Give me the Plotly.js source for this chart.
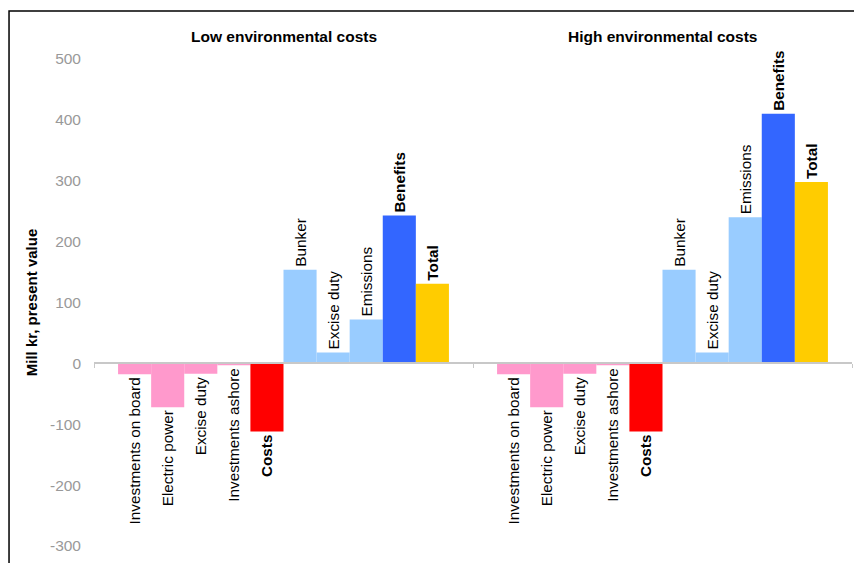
<!DOCTYPE html>
<html>
<head>
<meta charset="utf-8">
<script src="https://cdn.plot.ly/plotly-3.0.1.min.js"></script>
<style>
  html, body { margin: 0; padding: 0; background: #ffffff; }
  #chart { width: 854px; height: 563px; }
</style>
</head>
<body>
<div id="chart"></div>
<script>
// Scenario groups along the x axis
const scenarios = ['Low environmental costs', 'High environmental costs'];

// Cost and benefit items, in drawing order
const items = ['Investments on board', 'Electric power', 'Excise duty', 'Investments ashore', 'Costs',
               'Bunker', 'Excise duty', 'Emissions', 'Benefits', 'Total'];

// Present values, million kr
const lowEnvValues  = [-18, -72, -17, -3, -112, 154, 18, 72, 243, 131];
const highEnvValues = [-18, -72, -17, -3, -112, 154, 18, 240, 410, 298];

// Summary items get bold labels
const summaryItems = [false, false, false, false, true, false, false, false, true, true];

const itemColors = ['#FF99CC', '#FF99CC', '#FF99CC', '#FF99CC', '#FF0000',
                    '#99CCFF', '#99CCFF', '#99CCFF', '#3366FF', '#FFCC00'];

const yTicks = [-300, -200, -100, 0, 100, 200, 300, 400, 500];

const FONT = 'Arial, "Liberation Sans", sans-serif';

const traces = items.map((name, i) => {
  const label = summaryItems[i] ? '<b>' + name + '</b>' : name;
  return {
    type: 'bar',
    name: name,
    x: scenarios,
    y: [lowEnvValues[i], highEnvValues[i]],
    text: [label, label],
    texttemplate: '%{text}',
    textposition: 'outside',
    textangle: -90,
    constraintext: 'none',
    cliponaxis: false,
    textfont: { family: FONT, size: 15.3, color: '#000000' },
    marker: { color: itemColors[i], line: { width: 0 } },
    hoverinfo: 'skip',
    showlegend: false
  };
});

const layout = {
  width: 854,
  height: 563,
  margin: { l: 94, r: 2, t: 59, b: 17 },
  paper_bgcolor: '#ffffff',
  plot_bgcolor: '#ffffff',
  font: { family: FONT, color: '#000000' },
  barmode: 'group',
  bargap: 0.127,
  bargroupgap: 0,
  showlegend: false,
  xaxis: {
    type: 'category',
    anchor: 'free',
    position: 0.375,
    showline: true,
    linecolor: '#c8c8c8',
    linewidth: 2,
    ticks: 'outside',
    tickson: 'boundaries',
    ticklen: 4,
    tickwidth: 1,
    tickcolor: '#c8c8c8',
    showticklabels: false,
    showgrid: false,
    zeroline: false,
    fixedrange: true
  },
  yaxis: {
    range: [-300, 500],
    tickvals: yTicks,
    ticktext: yTicks.map(String),
    tickfont: { family: FONT, size: 15.5, color: '#999999' },
    ticks: '',
    ticklabelstandoff: 12,
    showgrid: false,
    zeroline: false,
    showline: false,
    fixedrange: true,
    title: {
      text: '<b>Mill kr, present value</b>',
      font: { family: FONT, size: 15, color: '#000000' },
      standoff: 8
    }
  },
  annotations: scenarios.map(s => ({
    x: s,
    xref: 'x',
    y: 1.047,
    yref: 'paper',
    yanchor: 'middle',
    xanchor: 'center',
    showarrow: false,
    text: '<b>' + s + '</b>',
    font: { family: FONT, size: 15.5, color: '#000000' }
  })),
  shapes: [{
    type: 'rect',
    xref: 'paper', yref: 'paper',
    x0: -0.1121, x1: 1.2,
    y0: -0.3, y1: 1.0986,
    line: { color: '#000000', width: 1.5 },
    fillcolor: 'rgba(0,0,0,0)',
    layer: 'below'
  }]
};

Plotly.newPlot('chart', traces, layout, { displayModeBar: false, staticPlot: true });
</script>
</body>
</html>
